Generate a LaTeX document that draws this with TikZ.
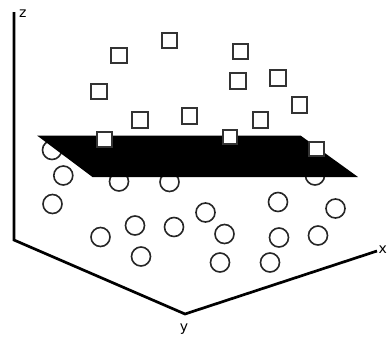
\documentclass[tikz,border=0pt]{standalone}
\usepackage{fontspec}
\setmainfont{DejaVu Sans}
\begin{document}
\begin{tikzpicture}[x=1bp,y=-1bp,
  pt/.style={circle,draw=black!85,line width=1.6bp,minimum size=19bp,inner sep=0pt},
  sq/.style={rectangle,draw=black!80,fill=white,line width=1.9bp,minimum size=15.5bp,inner sep=0pt},
  sqp/.style={sq,minimum size=14.5bp},
  axis/.style={line width=2.7bp,black},
  lab/.style={font=\fontsize{14bp}{14bp}\selectfont,inner sep=0pt}]
\useasboundingbox (0,0) rectangle (387,338);
% circles
\node[pt] (c1) at (52,150) {};
\node[pt] (c2) at (63.3,175.5) {};
\node[pt] (c3) at (52.5,204) {};
\node[pt] (c4) at (119,181.5) {};
\node[pt] (c5) at (169.5,182) {};
\node[pt] (c6) at (100.5,237) {};
\node[pt] (c7) at (135,225.5) {};
\node[pt] (c8) at (141,256.5) {};
\node[pt] (c9) at (174,227) {};
\node[pt] (c10) at (205.5,212.5) {};
\node[pt] (c11) at (224.5,234) {};
\node[pt] (c12) at (220,262.5) {};
\node[pt] (c13) at (278,202) {};
\node[pt] (c14) at (279,237.5) {};
\node[pt] (c15) at (270,262.5) {};
\node[pt] (c16) at (318,235.5) {};
\node[pt] (c17) at (335.5,208.5) {};
\node[pt] (c18) at (315,175.5) {};
% plane
\fill[black] (37,135.5) coordinate (p1) -- (300.5,135.5) coordinate (p2) -- (358,177) coordinate (p3) -- (92.5,177) coordinate (p4) -- cycle;
% squares
\node[sq] (s1) at (119,55.5) {};
\node[sq] (s2) at (169.5,40.5) {};
\node[sq] (s3) at (99,91.5) {};
\node[sq] (s4) at (140,120) {};
\node[sq] (s5) at (189.5,116) {};
\node[sq] (s6) at (240.5,51.5) {};
\node[sq] (s7) at (238,81) {};
\node[sq] (s8) at (278,78) {};
\node[sq] (s9) at (299.5,105) {};
\node[sq] (s10) at (260.5,120) {};
\node[sqp] (s11) at (104.5,139.5) {};
\node[sqp] (s12) at (230,137) {};
\node[sqp] (s13) at (316.5,149) {};
% axes
\coordinate (ztop) at (14,12);
\coordinate (o) at (14,240);
\coordinate (yc) at (185,314);
\coordinate (xe) at (377,251);
\draw[axis,line join=miter] (ztop) -- (o) -- (yc) -- (xe);
\node[lab,anchor=west] (zl) at (19,14) {z};
\node[lab] (yl) at (184,329) {y};
\node[lab,anchor=west] (xl) at (378.5,250) {x};
\end{tikzpicture}
\end{document}
